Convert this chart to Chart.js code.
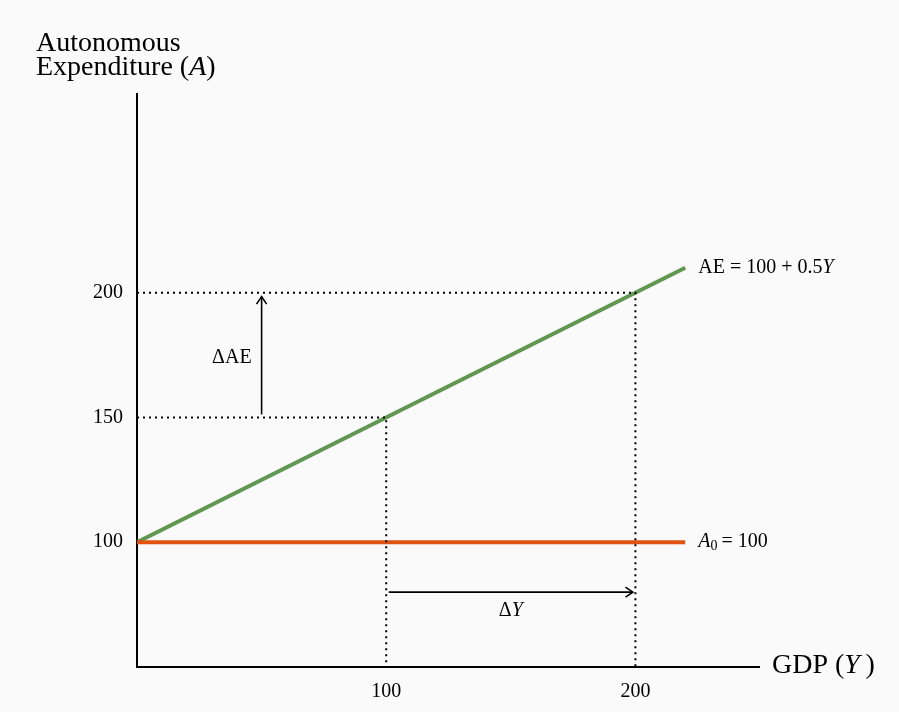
<!DOCTYPE html>
<html>
<head>
<meta charset="utf-8">
<script src="https://cdn.jsdelivr.net/npm/chart.js@4/dist/chart.umd.min.js"></script>
<style>
  body { margin: 0; background: #fafafa; }
  canvas { display: block; }
</style>
</head>
<body>
<canvas id="chart" width="899" height="712"></canvas>
<script>
// lines
const gdpValues = [0, 220];
const aeValues = [100, 210];
const autonomousValues = [100, 100];

// dotted guides
const guideLowX = [0, 100, 100];
const guideLowY = [150, 150, 50];
const guideHighX = [0, 200, 200];
const guideHighY = [200, 200, 50];

// ticks
const xTicks = [100, 200];
const yTicks = [100, 150, 200];

// arrows: [x0, y0, x1, y1]
const aeArrow = [50, 150, 50, 200];
const yArrow = [101, 80, 199, 80];

const serif = '"Liberation Serif", "DejaVu Serif", serif';

let toPoints = (xs, ys) => xs.map((x, i) => ({ x: x, y: ys[i] }));

let dotted = {
    borderColor: '#000',
    borderWidth: 2,
    borderDash: [2, 4],
    pointRadius: 0,
    fill: false
};

// draw text made of several runs with different fonts
function drawRuns(ctx, runs, x, y, align) {
    let total = 0;
    runs.forEach(r => {
        ctx.font = r.font;
        total += ctx.measureText(r.text).width;
    });
    let cx = align == 'right' ? x - total : align == 'center' ? x - total / 2 : x;
    runs.forEach(r => {
        ctx.font = r.font;
        ctx.fillText(r.text, cx, y + (r.dy || 0));
        cx += ctx.measureText(r.text).width;
    });
}

function arrow(ctx, x0, y0, x1, y1) {
    ctx.beginPath();
    ctx.moveTo(x0, y0);
    ctx.lineTo(x1, y1);
    ctx.stroke();
    let a = Math.atan2(y1 - y0, x1 - x0);
    let h = 9;
    ctx.beginPath();
    ctx.moveTo(x1 - h * Math.cos(a - 0.6), y1 - h * Math.sin(a - 0.6));
    ctx.lineTo(x1, y1);
    ctx.lineTo(x1 - h * Math.cos(a + 0.6), y1 - h * Math.sin(a + 0.6));
    ctx.stroke();
}

const decor = {
    id: 'decor',
    beforeDraw(chart) {
        let ctx = chart.ctx;
        ctx.save();
        ctx.fillStyle = '#fafafa';
        ctx.fillRect(0, 0, chart.width, chart.height);
        ctx.restore();
    },
    beforeDatasetsDraw(chart) {
        let ctx = chart.ctx;
        let a = chart.chartArea;
        ctx.save();
        ctx.strokeStyle = '#000';
        ctx.lineWidth = 2;
        ctx.beginPath();
        ctx.moveTo(a.left, a.top);
        ctx.lineTo(a.left, a.bottom);
        ctx.lineTo(a.right, a.bottom);
        ctx.stroke();
        ctx.restore();
    },
    afterDatasetsDraw(chart) {
        let ctx = chart.ctx;
        let xs = chart.scales.x, ys = chart.scales.y;
        let px = v => xs.getPixelForValue(v);
        let py = v => ys.getPixelForValue(v);
        let a = chart.chartArea;
        let reg = '20px ' + serif;
        let ital = 'italic 20px ' + serif;
        ctx.save();
        ctx.fillStyle = '#000';
        ctx.strokeStyle = '#000';
        ctx.lineWidth = 1.6;
        ctx.textBaseline = 'middle';

        arrow(ctx, px(aeArrow[0]), py(aeArrow[1]) - 3, px(aeArrow[2]), py(aeArrow[3]) + 4);
        arrow(ctx, px(yArrow[0]), py(yArrow[1]), px(yArrow[2]), py(yArrow[3]));

        drawRuns(ctx, [{ text: 'ΔAE', font: reg }], px(aeArrow[0]) - 10, py(174), 'right');
        drawRuns(ctx, [{ text: 'Δ', font: reg }, { text: 'Y', font: ital }], px(150), py(72.5), 'center');

        let lx = px(gdpValues[1]) + 13;
        drawRuns(ctx, [{ text: 'AE = 100 + 0.5', font: reg }, { text: 'Y', font: ital }], lx, py(aeValues[1]), 'left');
        drawRuns(ctx, [
            { text: 'A', font: ital },
            { text: '0', font: '14px ' + serif, dy: 4 },
            { text: '\u2009= 100', font: reg }
        ], lx, py(autonomousValues[1]), 'left');

        let big = '28px ' + serif;
        let bigI = 'italic 28px ' + serif;
        drawRuns(ctx, [{ text: 'GDP (', font: big }, { text: 'Y', font: bigI }, { text: '\u2009)', font: big }], a.right + 12, a.bottom - 1, 'left');

        ctx.textBaseline = 'alphabetic';
        drawRuns(ctx, [{ text: 'Autonomous', font: big }], 36, 51, 'left');
        drawRuns(ctx, [{ text: 'Expenditure (', font: big }, { text: 'A', font: bigI }, { text: ')', font: big }], 36, 75, 'left');
        ctx.restore();
    }
};

let myChart = new Chart(document.getElementById('chart'), {
    type: 'scatter',
    data: {
        datasets: [
            Object.assign({ label: 'guide150', data: toPoints(guideLowX, guideLowY), showLine: true }, dotted),
            Object.assign({ label: 'guide200', data: toPoints(guideHighX, guideHighY), showLine: true }, dotted),
            {
                label: 'A0',
                data: toPoints(gdpValues, autonomousValues),
                showLine: true,
                borderColor: 'rgb(224, 82, 18)',
                borderWidth: 4,
                pointRadius: 0
            },
            {
                label: 'AE',
                data: toPoints(gdpValues, aeValues),
                showLine: true,
                borderColor: 'rgb(96, 152, 82)',
                borderWidth: 4,
                pointRadius: 0
            }
        ]
    },
    options: {
        responsive: false,
        animation: false,
        layout: { padding: { left: 0, right: 139, top: 93, bottom: 0 } },
        plugins: {
            legend: { display: false },
            tooltip: { enabled: false }
        },
        scales: {
            x: {
                type: 'linear',
                min: 0,
                max: 250,
                grid: { display: false },
                border: { display: false },
                afterBuildTicks: s => { s.ticks = xTicks.map(v => ({ value: v })); },
                afterFit: s => { s.height = 45; },
                ticks: {
                    color: '#000',
                    padding: 5,
                    font: { family: serif, size: 20 }
                }
            },
            y: {
                type: 'linear',
                min: 50,
                max: 280,
                grid: { display: false },
                border: { display: false },
                afterBuildTicks: s => { s.ticks = yTicks.map(v => ({ value: v })); },
                afterFit: s => { s.width = 137; },
                ticks: {
                    color: '#000',
                    padding: 6,
                    font: { family: serif, size: 20 }
                }
            }
        }
    },
    plugins: [decor]
});
</script>
</body>
</html>
